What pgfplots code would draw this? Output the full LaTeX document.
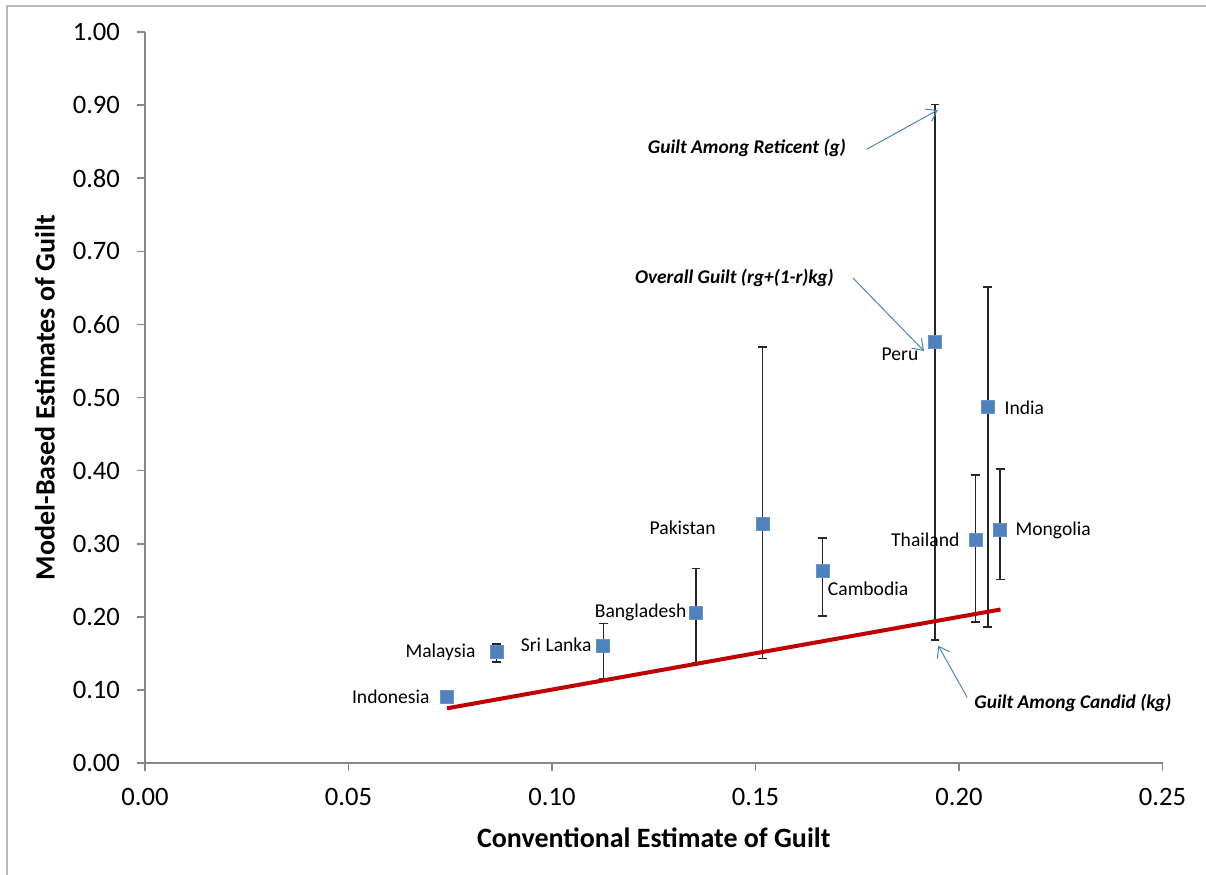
\documentclass[border=0pt]{standalone}
\usepackage{fontspec}
\setmainfont{Carlito}
\usepackage{pgfplots}
\usepackage{pgfplotstable}
\pgfplotsset{compat=1.18}
\usetikzlibrary{arrows.meta}
\definecolor{markblue}{RGB}{79,129,189}
\definecolor{linered}{RGB}{192,0,0}
\definecolor{axisgray}{RGB}{134,134,134}
\definecolor{framegray}{RGB}{185,185,185}
\definecolor{arrowblue}{RGB}{79,129,189}

\pgfplotstableread{
x y ep em
0.0742 0.0903 0 0
0.0864 0.1520 0.011 0.014
0.1126 0.1610 0.030 0.046
0.1354 0.2060 0.060 0.069
0.1517 0.3270 0.242 0.184
0.1665 0.2630 0.045 0.062
0.1941 0.5760 0.325 0.408
0.2071 0.4875 0.1635 0.3015
0.2041 0.3060 0.088 0.113
0.2101 0.3190 0.083 0.068
}\guilt

\begin{document}
\begin{tikzpicture}
\path[use as bounding box] (-72.5pt,-55.5pt) rectangle (530.5pt,381.5pt);
\draw[framegray, line width=0.7pt] (-69pt,-56pt) -- (-69pt,378.5pt) -- (531pt,378.5pt);
\begin{axis}[
  at={(0,0)}, anchor=origin,
  scale only axis, width=508.75pt, height=365.5pt,
  xmin=0, xmax=0.25, ymin=0, ymax=1,
  axis lines*=left,
  axis line style={axisgray, line width=0.8pt},
  tick style={axisgray, line width=0.8pt},
  tick align=outside, major tick length=4pt,
  xtick={0,0.05,0.1,0.15,0.2,0.25},
  ytick={0,0.1,0.2,0.3,0.4,0.5,0.6,0.7,0.8,0.9,1},
  minor tick num=0,
  /pgf/number format/assume math mode=true,
  /pgf/number format/fixed, /pgf/number format/fixed zerofill, /pgf/number format/precision=2,
  ticklabel style={font=\fontsize{13.3}{15}\selectfont, text=black},
  yticklabel style={xshift=-5pt},
  xticklabel style={yshift=-5pt},
  xlabel={Conventional Estimate of Guilt},
  ylabel={Model-Based Estimates of Guilt},
  label style={font=\fontsize{14}{16}\selectfont\bfseries},
  xlabel style={at={(rel axis cs:0.5,0)}, anchor=center, yshift=-37.5pt},
  ylabel style={at={(axis description cs:-0.0983,0.5)}, anchor=center},
  clip=false,
]
\addplot[only marks, mark=square*, mark size=3.25pt,
  mark options={fill=markblue, draw=markblue!85!white, line width=0.3pt},
  error bars/.cd, y dir=both, y explicit,
  error bar style={black!85, line width=0.7pt},
  error mark options={black!85, line width=0.7pt, mark size=2.2pt, rotate=90}]
  table[x=x, y=y, y error plus=ep, y error minus=em] {\guilt};
\addplot[linered, line width=2pt] coordinates {(0.0742,0.0748) (0.2102,0.2100)};
\addplot[only marks, mark=square*, mark size=3.25pt,
  mark options={fill=markblue, draw=markblue!85!white, line width=0.3pt}]
  table[x=x, y=y] {\guilt};

\begin{scope}[every node/.style={font=\fontsize{9.8}{12}\selectfont, inner sep=0pt}]
\node[anchor=east] at (axis cs:0.0700,0.0903) {Indonesia};
\node[anchor=east] at (axis cs:0.0813,0.1518) {Malaysia};
\node[anchor=east] at (axis cs:0.1098,0.1614) {Sri Lanka};
\node[anchor=east] at (axis cs:0.1331,0.2066) {Bangladesh};
\node[anchor=east] at (axis cs:0.1403,0.3215) {Pakistan};
\node[anchor=west] at (axis cs:0.1677,0.2390) {Cambodia};
\node[anchor=east] at (axis cs:0.1901,0.5595) {Peru};
\node[anchor=west] at (axis cs:0.2111,0.4866) {India};
\node[anchor=east] at (axis cs:0.2002,0.3050) {Thailand};
\node[anchor=west] at (axis cs:0.2138,0.3187) {Mongolia};
\end{scope}

\begin{scope}[every node/.style={font=\fontsize{9.7}{12}\selectfont\bfseries\itshape, inner sep=0pt}]
\node at (axis cs:0.1479,0.841) {Guilt Among Reticent (g)};
\node at (axis cs:0.1448,0.663) {Overall Guilt (rg+(1-r)kg)};
\node at (axis cs:0.2280,0.0821) {Guilt Among Candid (kg)};
\end{scope}
\begin{scope}[arrowblue, line width=0.5pt, -{Straight Barb[length=5pt, width=7pt]}]
\draw (axis cs:0.1773,0.8395) -- (axis cs:0.1948,0.8933);
\draw (axis cs:0.1740,0.6631) -- (axis cs:0.1914,0.5636);
\draw (axis cs:0.2020,0.0899) -- (axis cs:0.1949,0.1605);
\end{scope}
\end{axis}
\end{tikzpicture}
\end{document}
